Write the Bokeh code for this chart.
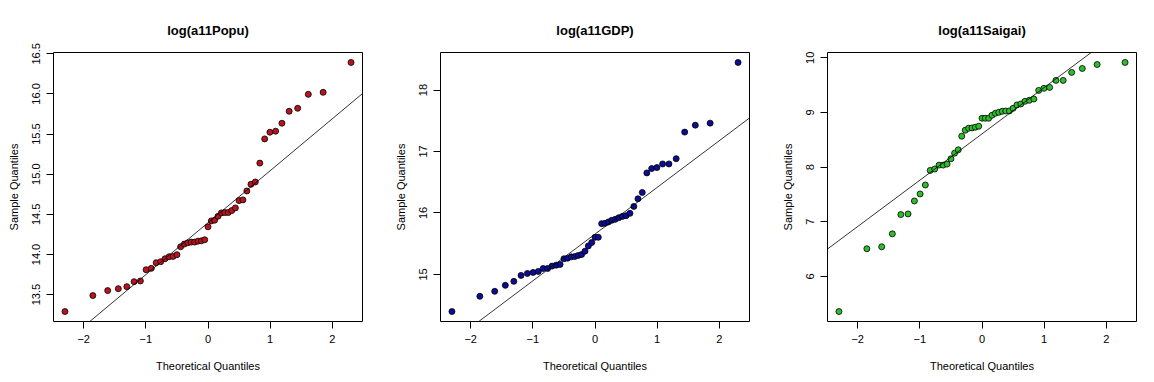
import numpy as np
from bokeh.plotting import figure
from bokeh.layouts import row
from bokeh.models import Range1d, FixedTicker, NumeralTickFormatter, Slope
from bokeh.embed import file_html
from bokeh.resources import INLINE

# Theoretical normal quantiles for n = 47 (ppoints)
theo_q = [-2.302, -1.853, -1.614, -1.443, -1.306, -1.190, -1.088, -0.996, -0.912, -0.834,
          -0.761, -0.691, -0.625, -0.562, -0.500, -0.441, -0.382, -0.326, -0.270, -0.215,
          -0.161, -0.107, -0.053, 0.0, 0.053, 0.107, 0.161, 0.215, 0.270, 0.326,
          0.382, 0.441, 0.500, 0.562, 0.625, 0.691, 0.761, 0.834, 0.912, 0.996,
          1.088, 1.190, 1.306, 1.443, 1.614, 1.853, 2.302]

popu = [13.289, 13.488, 13.55, 13.574, 13.599, 13.661, 13.67, 13.81, 13.827, 13.897,
        13.91, 13.947, 13.972, 13.976, 13.997, 14.096, 14.129, 14.145, 14.154, 14.154,
        14.166, 14.17, 14.183, 14.344, 14.418, 14.427, 14.476, 14.518, 14.522, 14.522,
        14.547, 14.58, 14.671, 14.68, 14.791, 14.874, 14.903, 15.138, 15.44, 15.523,
        15.536, 15.635, 15.784, 15.821, 15.995, 16.02, 16.392]

gdp = [14.396, 14.644, 14.725, 14.822, 14.887, 14.984, 15.016, 15.032, 15.049, 15.097,
       15.097, 15.135, 15.151, 15.162, 15.254, 15.264, 15.286, 15.291, 15.308, 15.324,
       15.378, 15.464, 15.518, 15.604, 15.604, 15.826, 15.831, 15.853, 15.88, 15.896,
       15.923, 15.944, 15.955, 15.993, 16.106, 16.23, 16.333, 16.651, 16.722, 16.738,
       16.797, 16.797, 16.883, 17.315, 17.428, 17.461, 18.448]

saigai = [5.356, 6.505, 6.541, 6.778, 7.131, 7.143, 7.38, 7.508, 7.672, 7.939,
          7.964, 8.036, 8.036, 8.055, 8.152, 8.255, 8.316, 8.565, 8.675, 8.711,
          8.717, 8.73, 8.748, 8.894, 8.894, 8.894, 8.948, 8.985, 9.003, 9.021,
          9.027, 9.027, 9.076, 9.137, 9.155, 9.204, 9.222, 9.246, 9.404, 9.441,
          9.459, 9.587, 9.587, 9.733, 9.805, 9.878, 9.915]

titles = ["log(a11Popu)", "log(a11GDP)", "log(a11Saigai)"]
series = [popu, gdp, saigai]
fills = ["#B8141E", "#0C0C94", "#2DBE2D"]
y_ticks = [[13.5, 14.0, 14.5, 15.0, 15.5, 16.0, 16.5], [15, 16, 17, 18], [6, 7, 8, 9, 10]]
y_formats = ["0.0", "0", "0"]
x_ticks = [-2, -1, 0, 1, 2]

FONT = "Liberation Sans"
Z_Q = 0.6745


def pad(vals):
    lo, hi = min(vals), max(vals)
    d = (hi - lo) * 0.04
    return lo - d, hi + d


figs = []
for i, (t, ys, col) in enumerate(zip(titles, series, fills)):
    x0, x1 = pad(theo_q)
    y0, y1 = pad(ys)
    p = figure(frame_width=309, frame_height=269,
               x_range=Range1d(x0, x1), y_range=Range1d(y0, y1),
               output_backend="svg", toolbar_location=None,
               min_border_left=53, min_border_right=(2 if i == 2 else 25),
               min_border_top=52, min_border_bottom=50, title=t)
    p.grid.visible = False
    p.outline_line_color = "black"
    p.outline_line_width = 1
    p.background_fill_color = "white"
    p.border_fill_color = "white"

    p.title.align = "center"
    p.title.text_font = FONT
    p.title.text_font_style = "bold"
    p.title.text_font_size = "13px"
    p.title.text_color = "black"
    p.title.standoff = 30

    for ax in (p.xaxis[0], p.yaxis[0]):
        ax.axis_line_color = None
        ax.major_tick_out = 7
        ax.major_tick_in = 0
        ax.minor_tick_line_color = None
        ax.major_tick_line_color = "black"
        ax.major_label_text_font = FONT
        ax.major_label_text_font_size = "11px"
        ax.major_label_text_color = "black"
        ax.axis_label_text_font = FONT
        ax.axis_label_text_font_size = "11px"
        ax.axis_label_text_font_style = "normal"
        ax.axis_label_text_color = "black"

    p.xaxis.ticker = FixedTicker(ticks=x_ticks)
    p.xaxis.axis_label = "Theoretical Quantiles"
    p.xaxis.major_label_standoff = 6
    p.xaxis.axis_label_standoff = 14

    p.yaxis.ticker = FixedTicker(ticks=y_ticks[i])
    p.yaxis.formatter = NumeralTickFormatter(format=y_formats[i])
    p.yaxis.axis_label = "Sample Quantiles"
    p.yaxis.major_label_orientation = "vertical"
    p.yaxis.major_label_standoff = 6
    p.yaxis.axis_label_standoff = 10

    # qqline through the quartiles
    q1, q3 = np.quantile(ys, [0.25, 0.75])
    slope = (q3 - q1) / (2 * Z_Q)
    intercept = q1 + Z_Q * slope
    p.add_layout(Slope(gradient=slope, y_intercept=intercept,
                       line_color="black", line_width=0.8))

    p.scatter(theo_q, ys, size=6, fill_color=col, line_color="black", line_width=0.8)
    figs.append(p)

layout = row(*figs, spacing=0)
open("out.html", "w").write(file_html(layout, INLINE))
